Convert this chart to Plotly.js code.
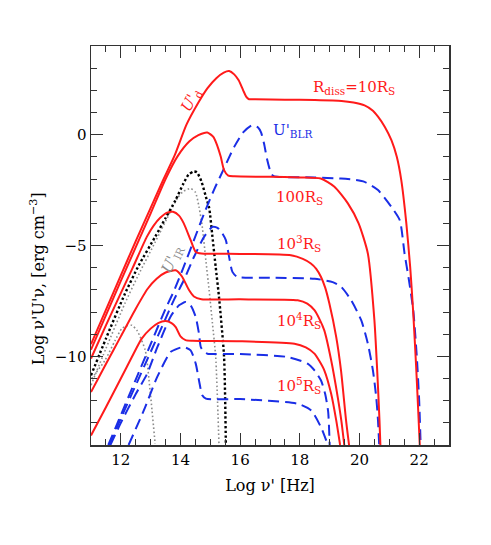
<!DOCTYPE html>
<html>
<head>
<meta charset="utf-8">
<script src="https://cdn.plot.ly/plotly-3.0.1.min.js"></script>
<style>
  html, body { margin: 0; padding: 0; background: #fff; }
  #chart { width: 491px; height: 545px; }
</style>
</head>
<body>
<div id="chart"></div>
<script>
// Energy densities in the comoving frame (log nu' [Hz] vs log nu'U'_nu)

// U'_d + ... for R_diss = 10, 100, 1e3, 1e4, 1e5 R_S (red solid)
var nuR1 = [11, 11.5, 12, 12.5, 13, 13.4, 13.8, 14.2, 14.6, 14.9, 15.2, 15.45, 15.63, 15.8, 15.95, 16.1, 16.2, 16.3, 16.5, 17.5, 18.5, 19.4, 19.8, 20.17, 20.45, 20.62, 20.85, 21.07, 21.25, 21.4, 21.57, 21.7, 21.8, 21.9, 21.97, 22.02];
var uR1  = [-9.45, -7.9, -6.35, -4.8, -3.3, -2.1, -0.95, 0.45, 1.45, 2.09, 2.55, 2.8, 2.87, 2.72, 2.45, 2.0, 1.72, 1.6, 1.6, 1.58, 1.56, 1.52, 1.45, 1.32, 1.08, 0.81, 0.35, -0.25, -1.0, -2.05, -4.0, -6.0, -8.0, -10.5, -12.5, -14];

var nuR2 = [11, 12, 13, 13.5, 13.9, 14.3, 14.6, 14.9, 15.1, 15.2, 15.35, 15.46, 15.6, 15.8, 17, 18, 18.7, 19.16, 19.61, 19.97, 20.28, 20.5, 20.62, 20.67, 20.7];
var uR2  = [-9.7, -6.6, -3.55, -2.0, -0.98, -0.3, -0.02, 0.1, -0.1, -0.38, -1.0, -1.6, -1.85, -1.88, -1.9, -1.93, -1.98, -2.35, -3.1, -4.0, -5.36, -8.38, -11.39, -12.9, -14];

var nuR3 = [11, 11.5, 12, 12.4, 12.87, 13.1, 13.32, 13.55, 13.75, 13.95, 14.11, 14.34, 14.51, 14.7, 16, 17.7, 18.1, 18.37, 18.55, 18.71, 18.85, 18.99, 19.22, 19.38, 19.55, 19.65];
var uR3  = [-10.1, -8.6, -7.15, -6.0, -4.61, -4.1, -3.75, -3.52, -3.48, -3.65, -4.0, -4.76, -5.29, -5.36, -5.38, -5.44, -5.6, -5.81, -6.05, -6.42, -6.9, -7.62, -9.13, -10.63, -12.9, -14];

var nuR4 = [11, 11.5, 12, 12.5, 12.9, 13.2, 13.5, 13.84, 14.05, 14.28, 14.45, 14.7, 16, 17.93, 18.25, 18.49, 18.65, 18.82, 19.05, 19.27, 19.39, 19.49];
var uR4  = [-11.61, -10.35, -9.1, -7.85, -6.95, -6.5, -6.22, -6.12, -6.4, -7.0, -7.3, -7.42, -7.43, -7.47, -7.62, -7.92, -8.3, -8.83, -10.18, -11.84, -12.89, -14];

var nuR5 = [11, 11.5, 12, 12.37, 12.7, 13.0, 13.25, 13.5, 13.7, 13.84, 14.0, 14.17, 14.4, 16, 17.82, 18.2, 18.49, 18.65, 18.82, 19.05, 19.22, 19.35];
var uR5  = [-13.57, -12.3, -11.0, -10.03, -9.2, -8.75, -8.5, -8.41, -8.5, -8.68, -9.1, -9.27, -9.3, -9.32, -9.43, -9.6, -9.88, -10.2, -10.63, -11.69, -12.89, -14];

// U'_BLR (blue dashed)
var nuB1 = [11.58, 12, 12.5, 13, 13.5, 13.78, 14.11, 14.45, 14.79, 15.12, 15.46, 15.8, 16.1, 16.41, 16.6, 16.7, 16.8, 16.9, 17.0, 17.1, 17.25, 18.5, 19.38, 19.8, 20.17, 20.62, 21.07, 21.35, 21.51, 21.65, 21.8, 21.92, 22.0, 22.05];
var uB1  = [-14, -12.65, -11.05, -9.45, -7.85, -7.05, -5.95, -4.76, -3.56, -2.5, -1.52, -0.55, 0.1, 0.43, 0.32, 0.1, -0.4, -1.1, -1.6, -1.85, -1.9, -1.93, -1.98, -2.03, -2.13, -2.5, -3.26, -3.86, -5.36, -6.5, -7.9, -10, -12, -14];

var nuB2 = [11.62, 12, 12.5, 13, 13.5, 13.78, 14.11, 14.45, 14.79, 15.07, 15.24, 15.4, 15.52, 15.63, 15.74, 15.91, 17, 18.5, 18.82, 19.1, 19.39, 19.72, 20.06, 20.28, 20.45, 20.56, 20.62, 20.66];
var uB2  = [-14, -12.8, -11.3, -9.8, -8.3, -7.45, -6.57, -5.52, -4.61, -4.16, -4.2, -4.45, -4.76, -5.52, -6.19, -6.42, -6.45, -6.5, -6.57, -6.65, -6.87, -7.47, -8.38, -9.43, -10.63, -11.84, -12.89, -14];

var nuB3 = [11.65, 12, 12.5, 12.88, 13.22, 13.67, 13.95, 14.17, 14.34, 14.51, 14.62, 14.68, 14.79, 14.9, 16, 17.59, 18.26, 18.5, 18.71, 18.85, 18.95, 19.0];
var uB3  = [-14, -13.0, -11.7, -10.79, -9.6, -8.2, -7.7, -7.55, -7.7, -8.23, -8.98, -9.58, -9.8, -9.88, -9.9, -10.03, -10.33, -10.65, -11.09, -11.7, -12.5, -14];

var nuB4 = [12.26, 12.77, 13.22, 13.67, 13.9, 14.11, 14.34, 14.51, 14.62, 14.73, 14.85, 16, 17.93, 18.38, 18.71, 18.94];
var uB4  = [-14, -12.44, -10.93, -9.8, -9.65, -9.58, -9.73, -10.33, -11.09, -11.76, -11.91, -11.93, -12.14, -12.44, -13.2, -14];

// U'_IR (dotted)
var nuIRk = [11, 11.5, 12.14, 12.6, 13.15, 13.5, 13.83, 14.1, 14.27, 14.45, 14.55, 14.7, 14.85, 14.96, 15.07, 15.18, 15.29, 15.46, 15.52];
var uIRk  = [-10.86, -9.2, -7.17, -5.9, -4.61, -3.76, -2.96, -2.2, -1.8, -1.66, -1.7, -2.1, -2.8, -3.3, -4.6, -5.97, -7.32, -10.03, -14];

var nuIRg = [11, 11.5, 12.14, 12.6, 13.15, 13.67, 13.89, 14.1, 14.34, 14.5, 14.62, 14.73, 14.85, 14.96, 15.07, 15.18, 15.29];
var uIRg  = [-11.3, -9.65, -7.6, -6.3, -4.85, -3.45, -2.88, -2.55, -2.43, -2.6, -3.26, -4.16, -5.67, -7.02, -8.5, -10.03, -14];

var nuIRs = [11.02, 11.47, 11.81, 12.03, 12.2, 12.37, 12.55, 12.82, 12.98, 13.15];
var uIRs  = [-11.0, -10.18, -9.28, -8.75, -8.62, -8.6, -8.85, -9.73, -11.54, -13.95];

var xTicks = [12, 14, 16, 18, 20, 22];
var yTicks = [-10, -5, 0];

var RED = '#ff1a1a';
var BLUE = '#1a2ee6';
var GRAY = '#8c8c8c';

function curve(x, y, color, width, dash) {
    return {
        x: x, y: y, type: 'scatter', mode: 'lines', hoverinfo: 'skip',
        line: { color: color, width: width, dash: dash, shape: 'spline', smoothing: 0.6 }
    };
}

var traces = [
    curve(nuIRs, uIRs, GRAY, 1.6, '1.6px,2.4px'),
    curve(nuIRg, uIRg, GRAY, 1.6, '1.6px,2.4px'),
    curve(nuIRk, uIRk, '#000000', 2.4, '2.4px,2.4px'),
    curve(nuB1, uB1, BLUE, 2, '11px,6px'),
    curve(nuB2, uB2, BLUE, 2, '11px,6px'),
    curve(nuB3, uB3, BLUE, 2, '11px,6px'),
    curve(nuB4, uB4, BLUE, 2, '11px,6px'),
    curve(nuR1, uR1, RED, 2, 'solid'),
    curve(nuR2, uR2, RED, 2, 'solid'),
    curve(nuR3, uR3, RED, 2, 'solid'),
    curve(nuR4, uR4, RED, 2, 'solid'),
    curve(nuR5, uR5, RED, 2, 'solid')
];

var serif = 'DejaVu Serif, Liberation Serif, serif';

function label(x, y, text, color, extra) {
    var a = { x: x, y: y, xref: 'x', yref: 'y', text: text, showarrow: false,
              font: { family: serif, size: 15, color: color } };
    for (var k in extra) a[k] = extra[k];
    return a;
}

var annotations = [
    label(19.82, 2.15, 'R<sub>diss</sub>=10R<sub>S</sub>', RED),
    label(17.03, 0.2, "U'<sub>BLR</sub>", BLUE, { xanchor: 'left' }),
    label(18.0, -2.82, '100R<sub>S</sub>', RED),
    label(17.97, -4.9, '10<sup>3</sup>R<sub>S</sub>', RED),
    label(17.97, -8.38, '10<sup>4</sup>R<sub>S</sub>', RED),
    label(17.97, -11.3, '10<sup>5</sup>R<sub>S</sub>', RED),
    label(14.34, 1.56, "<i>U'</i><sub>d</sub>", RED, { textangle: -62 }),
    label(13.73, -5.58, "<i>U'</i><sub>IR</sub>", GRAY, { textangle: -65 }),
    {
        xref: 'paper', yref: 'paper', x: -0.15, y: 0.416, xanchor: 'center', yanchor: 'middle',
        showarrow: false, textangle: -90,
        text: "Log ν'U'ν, [erg cm<sup>−3</sup>]",
        font: { family: serif, size: 16, color: '#000' }
    }
];

var axisCommon = {
    showgrid: false, zeroline: false, showline: true, linecolor: '#333', linewidth: 1.5,
    mirror: 'allticks', ticks: 'inside', ticklen: 12, tickwidth: 1, tickcolor: '#333',
    ticklabelposition: 'outside',
    tickfont: { family: serif, size: 15, color: '#000' }
};

var layout = {
    width: 491, height: 545,
    margin: { l: 91, r: 42, t: 46, b: 100 },
    paper_bgcolor: '#fff', plot_bgcolor: '#fff',
    showlegend: false,
    xaxis: Object.assign({}, axisCommon, {
        range: [11, 23], tickvals: xTicks,
        minor: { dtick: 0.5, tick0: 11, ticks: 'inside', ticklen: 6, tickwidth: 1, tickcolor: '#333' },
        title: { text: "Log ν' [Hz]", font: { family: serif, size: 16, color: '#000' }, standoff: 12 }
    }),
    yaxis: Object.assign({}, axisCommon, {
        range: [-14, 4], tickvals: yTicks,
        minor: { dtick: 1, tick0: 0, ticks: 'inside', ticklen: 6, tickwidth: 1, tickcolor: '#333' }
    }),
    annotations: annotations
};

Plotly.newPlot('chart', traces, layout, { displayModeBar: false, staticPlot: true });
</script>
</body>
</html>
